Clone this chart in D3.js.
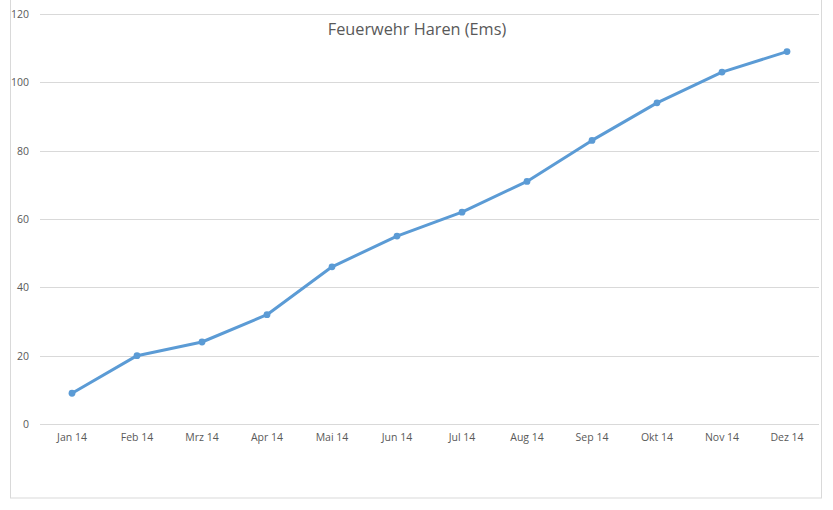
<!DOCTYPE html>
<html>
<head>
<meta charset="utf-8">
<script src="https://cdn.jsdelivr.net/npm/d3@7"></script>
<style>
  body { margin: 0; background: #fff; }
  .grid line { stroke: #d9d9d9; stroke-width: 1; }
  .axis text { font-family: "Open Sans", sans-serif; font-size: 10.5px; fill: #595959; }
</style>
</head>
<body>
<div id="chart"></div>
<script>
var months = ["Jan 14", "Feb 14", "Mrz 14", "Apr 14", "Mai 14", "Jun 14", "Jul 14", "Aug 14", "Sep 14", "Okt 14", "Nov 14", "Dez 14"];
var einsaetze = [9, 20, 24, 32, 46, 55, 62, 71, 83, 94, 103, 109];
var yTicks = [0, 20, 40, 60, 80, 100, 120];
var title = "Feuerwehr Haren (Ems)";

var width = 833, height = 510;

var svg = d3.select("#chart").append("svg")
    .attr("width", width)
    .attr("height", height);

// chart frame (top edge lies outside the picture)
svg.append("rect")
    .attr("x", 10.5)
    .attr("y", -5)
    .attr("width", 811)
    .attr("height", 503)
    .attr("fill", "#fff")
    .attr("stroke", "#d9d9d9");

var x = d3.scaleBand()
    .domain(months)
    .range([39.5, 819.5]);

var y = d3.scaleLinear()
    .domain([0, 120])
    .range([424, 14]);

// gridlines
svg.append("g")
    .attr("class", "grid")
    .selectAll("line")
    .data(yTicks)
    .enter().append("line")
    .attr("x1", 40)
    .attr("x2", 819)
    .attr("y1", function(d) { return Math.round(y(d)) + 0.5; })
    .attr("y2", function(d) { return Math.round(y(d)) + 0.5; });

// y labels
var yAxis = d3.axisLeft(y).tickValues(yTicks).tickSize(0).tickPadding(0);
svg.append("g")
    .attr("class", "axis")
    .attr("transform", "translate(29,0)")
    .call(yAxis)
    .call(function(g) { g.select(".domain").remove(); });

// x labels
var xAxis = d3.axisBottom(x).tickSize(0).tickPadding(10);
svg.append("g")
    .attr("class", "axis")
    .attr("transform", "translate(0,424)")
    .call(xAxis)
    .call(function(g) { g.select(".domain").remove(); });

var line = d3.line()
    .x(function(d, i) { return x(months[i]) + x.bandwidth() / 2; })
    .y(function(d) { return y(d); });

svg.append("path")
    .datum(einsaetze)
    .attr("fill", "none")
    .attr("stroke", "#5b9bd5")
    .attr("stroke-width", 3)
    .attr("stroke-linejoin", "round")
    .attr("stroke-linecap", "round")
    .attr("d", line);

svg.selectAll(".dot")
    .data(einsaetze)
    .enter().append("circle")
    .attr("class", "dot")
    .attr("cx", function(d, i) { return x(months[i]) + x.bandwidth() / 2; })
    .attr("cy", function(d) { return y(d); })
    .attr("r", 3.4)
    .attr("fill", "#5b9bd5");

svg.append("text")
    .attr("x", 417)
    .attr("y", 35)
    .attr("text-anchor", "middle")
    .attr("font-family", "'Open Sans', sans-serif")
    .attr("font-size", "16.3px")
    .attr("fill", "#595959")
    .text(title);
</script>
</body>
</html>
